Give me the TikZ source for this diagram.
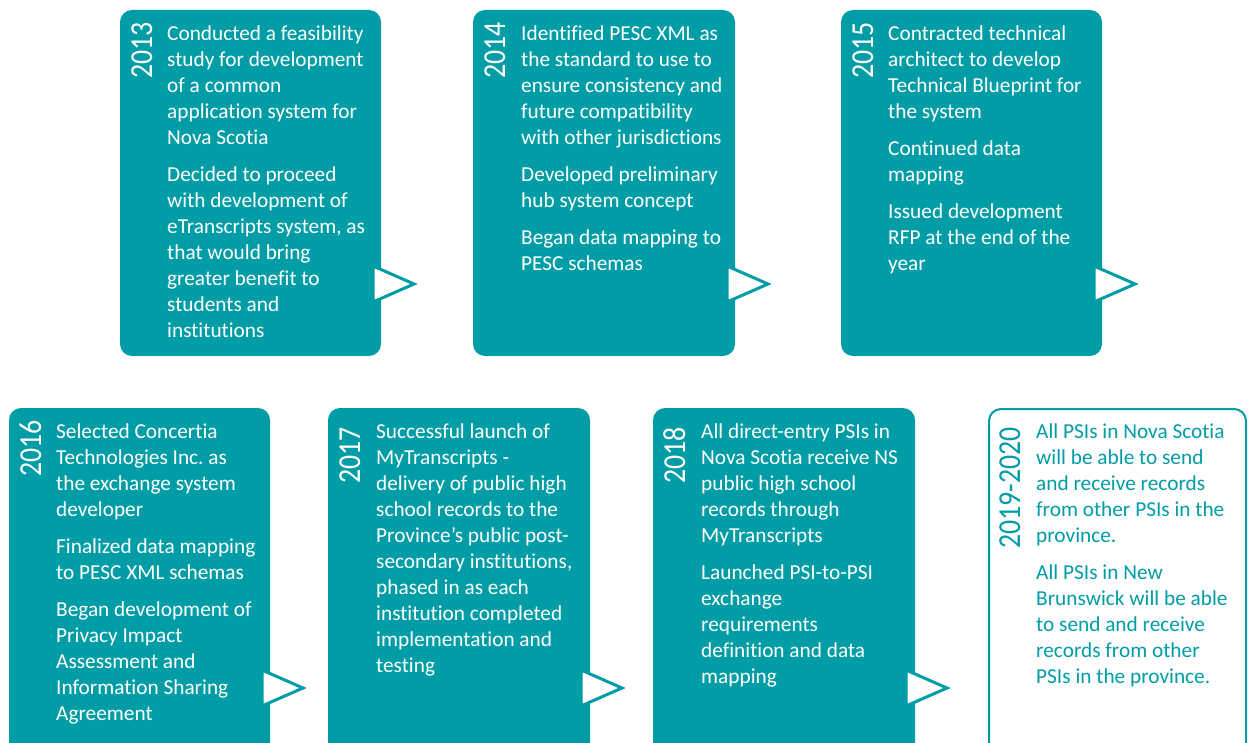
\documentclass[tikz,border=0pt]{standalone}
\usepackage{fontspec}
\usepackage{graphicx}
\setmainfont[Ligatures={NoCommon}]{Carlito}
\frenchspacing
\definecolor{teal1}{RGB}{0,157,166}
\tikzset{
  tbox/.style={fill=teal1, rounded corners=12pt},
  obox/.style={draw=teal1, fill=white, line width=2pt, rounded corners=12pt},
  chev/.style={draw=teal1, fill=white, line width=3pt, line join=miter},
  body/.style={anchor=north west, align=left, inner sep=0pt, text=white,
    font=\fontsize{21.3}{26}\selectfont},
  yr/.style={anchor=base east, rotate=90, inner sep=0pt, text=white,
    font=\fontsize{32}{32}\selectfont},
}
\newcommand{\yrtxt}[1]{\scalebox{0.87}[1]{#1}}
\newcommand{\fs}{\rule{0pt}{16pt}}
\begin{document}
\begin{tikzpicture}[x=1pt,y=-1pt]
\useasboundingbox (0,0) rectangle (1248,743);
\clip (0,0) rectangle (1248,743);
% top row
\fill[tbox] (120,10) rectangle (381,356);
\fill[tbox] (473,10) rectangle (735,356);
\fill[tbox] (841,10) rectangle (1102,356);
% bottom row
\fill[tbox] (9,408) rectangle (270,770);
\fill[tbox] (328,408) rectangle (590,770);
\fill[tbox] (653,408) rectangle (915,770);
\draw[obox] (989,409) rectangle (1246,770);
% chevrons
\draw[chev] (373,266) -- (414,284) -- (373,302) -- cycle;
\draw[chev] (727,266) -- (768,284) -- (727,302) -- cycle;
\draw[chev] (1094,266) -- (1135,284) -- (1094,302) -- cycle;
\draw[chev] (262,670) -- (303,688) -- (262,706) -- cycle;
\draw[chev] (581,670) -- (622,688) -- (581,706) -- cycle;
\draw[chev] (906,670) -- (947,688) -- (906,706) -- cycle;
% years
\node[yr] (y13) at (152,22) {\yrtxt{2013}};
\node[yr] (y14) at (505,22) {\yrtxt{2014}};
\node[yr] (y15) at (873,22) {\yrtxt{2015}};
\node[yr] (y16) at (41,420) {\yrtxt{2016}};
\node[yr] (y17) at (360,427) {\yrtxt{2017}};
\node[yr] (y18) at (685,427) {\yrtxt{2018}};
\node[yr, text=teal1] (y19) at (1020,427) {\yrtxt{2019-2020}};
% texts
\node[body] (t13) at (167,24) {\fs Conducted a feasibility\\ study for development\\ of a common\\ application system for\\ Nova Scotia\\[11pt]
Decided to proceed\\ with development of\\ eTranscripts system, as\\ that would bring\\ greater benefit to\\ students and\\ institutions};
\node[body] (t14) at (521,24) {\fs Identified PESC XML as\\ the standard to use to\\ ensure consistency and\\ future compatibility\\ with other jurisdictions\\[11pt]
Developed preliminary\\ hub system concept\\[11pt]
Began data mapping to\\ PESC schemas};
\node[body] (t15) at (888,24) {\fs Contracted technical\\ architect to develop\\ Technical Blueprint for\\ the system\\[11pt]
Continued data\\ mapping\\[11pt]
Issued development\\ RFP at the end of the\\ year};
\node[body] (t16) at (56,422) {\fs Selected Concertia\\ Technologies Inc.\ as\\ the exchange system\\ developer\\[11pt]
Finalized data mapping\\ to PESC XML schemas\\[11pt]
Began development of\\ Privacy Impact\\ Assessment and\\ Information Sharing\\ Agreement};
\node[body] (t17) at (376,422) {\fs Successful launch of\\ MyTranscripts -\\ delivery of public high\\ school records to the\\ Province’s public post-\\ secondary institutions,\\ phased in as each\\ institution completed\\ implementation and\\ testing};
\node[body] (t18) at (701,422) {\fs All direct-entry PSIs in\\ Nova Scotia receive NS\\ public high school\\ records through\\ MyTranscripts\\[11pt]
Launched PSI-to-PSI\\ exchange\\ requirements\\ definition and data\\ mapping};
\node[body, text=teal1] (t19) at (1036,422) {\fs All PSIs in Nova Scotia\\ will be able to send\\ and receive records\\ from other PSIs in the\\ province.\\[11pt]
All PSIs in New\\ Brunswick will be able\\ to send and receive\\ records from other\\ PSIs in the province.};
\end{tikzpicture}
\end{document}
